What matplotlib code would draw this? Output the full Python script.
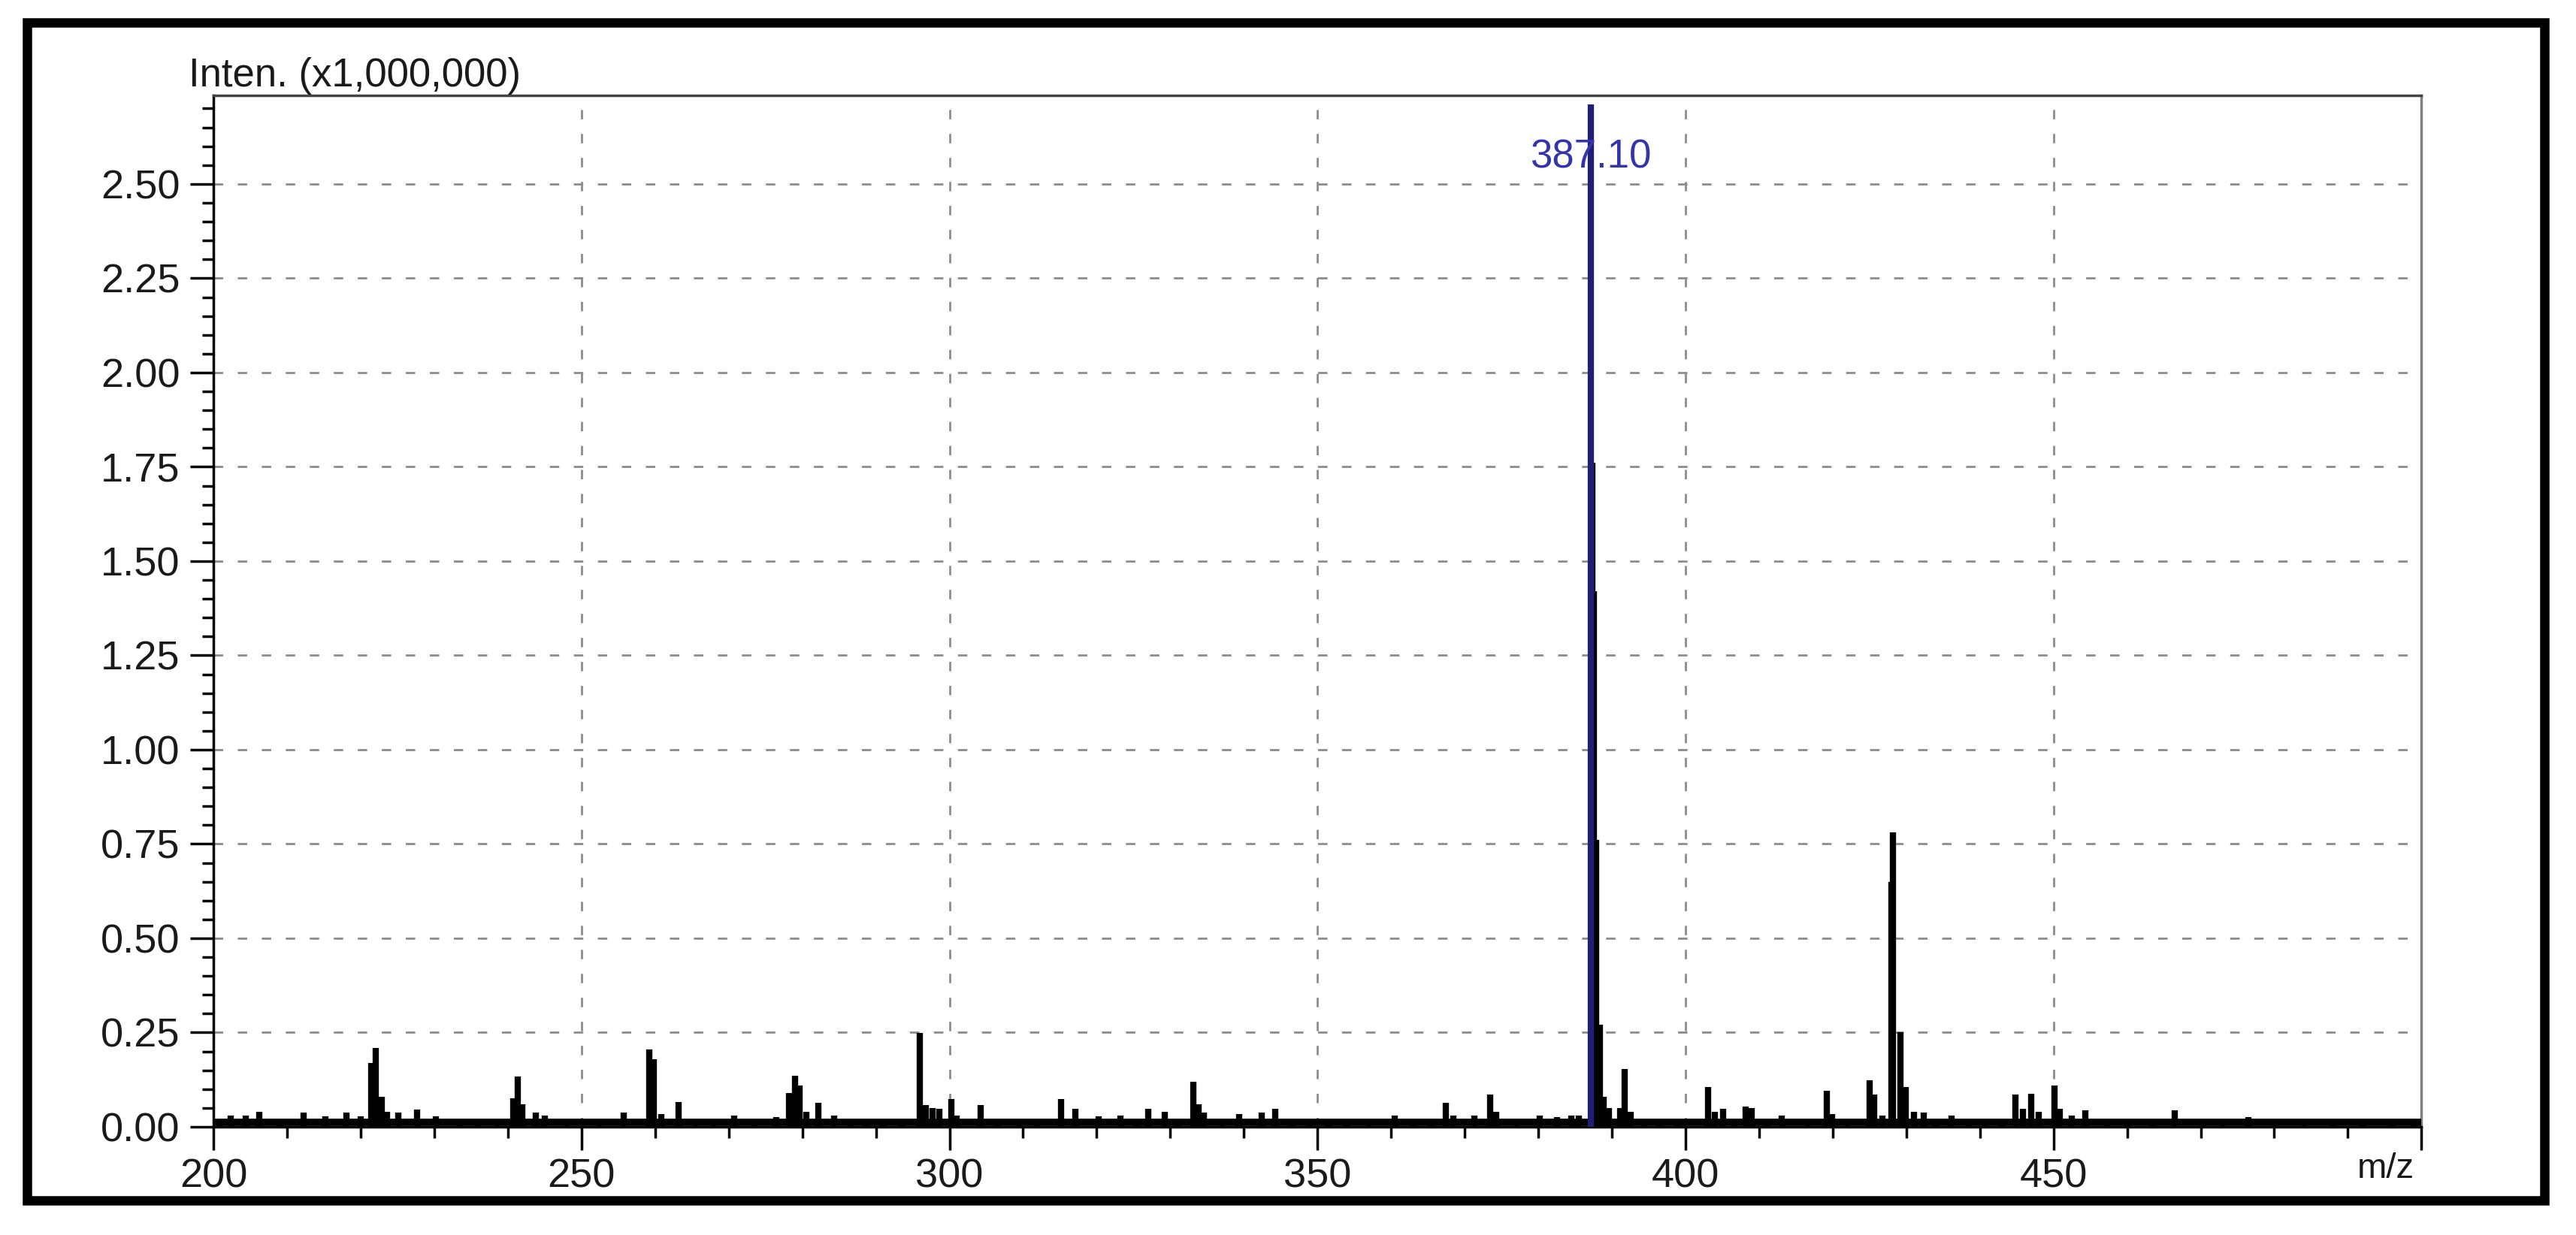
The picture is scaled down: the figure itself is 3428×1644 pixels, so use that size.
"""
质谱图绘制脚本
根据参考图重绘 m/z 质谱（强度单位 x1,000,000）
"""

import matplotlib
matplotlib.use('Agg')
import matplotlib.pyplot as plt
from matplotlib.patches import Rectangle
from matplotlib.ticker import MultipleLocator, FormatStrFormatter

# ---- 数据 ----
# 峰位置 (m/z)
mz_values = [
    200.8, 202.3, 204.4, 206.2, 209.0, 212.2, 215.2, 218.1, 220.0, 221.4,
    222.0, 222.9, 223.6, 225.1, 227.7, 230.2, 233.5, 236.0, 238.6, 240.7,
    241.3, 241.9, 243.8, 245.0, 248.0, 252.5, 255.7, 259.2, 259.8, 260.8,
    263.2, 265.5, 268.0, 270.7, 273.5, 276.5, 278.2, 279.0, 279.6, 280.5,
    282.2, 284.3, 286.5, 288.7, 291.0, 293.5, 296.0, 296.8, 297.7, 298.6,
    300.3, 301.0, 304.2, 306.5, 309.5, 312.0, 315.2, 317.1, 320.3, 323.2,
    325.5, 327.0, 329.2, 331.0, 333.1, 333.8, 334.6, 337.0, 339.4, 342.4,
    344.3, 346.5, 349.0, 351.5, 354.0, 357.0, 360.5, 363.0, 365.5, 367.4,
    368.5, 371.3, 373.5, 374.3, 377.0, 380.2, 382.5, 384.5, 385.5, 387.3,
    387.6, 387.9, 388.4, 388.9, 389.6, 391.1, 391.7, 392.6, 394.5, 396.5,
    399.0, 403.1, 404.0, 405.1, 406.5, 408.2, 409.0, 411.0, 413.1, 416.6,
    419.2, 419.9, 422.0, 425.0, 425.6, 426.8, 428.0, 428.2, 429.2, 429.9,
    431.0, 432.4, 434.0, 436.2, 438.5, 440.6, 443.0, 444.8, 445.9, 447.0,
    448.0, 450.1, 450.9, 452.5, 454.3, 457.3, 460.0, 463.5, 466.5, 470.5,
    473.0, 476.5, 480.0, 484.0, 488.0, 492.0, 496.0, 499.0,
]

# 峰强度 (x1,000,000)
intensities = [
    0.020, 0.030, 0.030, 0.040, 0.020, 0.038, 0.027, 0.038, 0.027, 0.170,
    0.210, 0.080, 0.040, 0.038, 0.045, 0.027, 0.015, 0.020, 0.020, 0.075,
    0.133, 0.060, 0.038, 0.030, 0.015, 0.020, 0.038, 0.206, 0.180, 0.034,
    0.066, 0.020, 0.020, 0.030, 0.020, 0.025, 0.090, 0.136, 0.110, 0.040,
    0.063, 0.030, 0.020, 0.020, 0.015, 0.020, 0.249, 0.057, 0.050, 0.047,
    0.073, 0.030, 0.057, 0.020, 0.020, 0.020, 0.073, 0.047, 0.027, 0.030,
    0.020, 0.047, 0.040, 0.020, 0.120, 0.060, 0.038, 0.020, 0.034, 0.038,
    0.047, 0.020, 0.015, 0.020, 0.020, 0.020, 0.030, 0.020, 0.020, 0.063,
    0.030, 0.030, 0.086, 0.040, 0.020, 0.030, 0.025, 0.030, 0.030, 1.760,
    1.420, 0.760, 0.270, 0.080, 0.050, 0.050, 0.153, 0.040, 0.020, 0.020,
    0.020, 0.106, 0.040, 0.047, 0.020, 0.053, 0.050, 0.020, 0.030, 0.017,
    0.096, 0.034, 0.020, 0.123, 0.085, 0.030, 0.650, 0.780, 0.250, 0.106,
    0.040, 0.038, 0.020, 0.030, 0.020, 0.020, 0.020, 0.086, 0.047, 0.088,
    0.040, 0.110, 0.047, 0.030, 0.043, 0.020, 0.020, 0.020, 0.044, 0.020,
    0.015, 0.026, 0.015, 0.020, 0.015, 0.020, 0.020, 0.020,
]

# 基峰
base_peak_mz = 387.1
base_peak_intensity = 2.71
base_peak_label = '387.10'

# 基线噪声水平
baseline_level = 0.012

# 坐标轴刻度
x_ticks = [200, 250, 300, 350, 400, 450, 500]
x_tick_labels = ['200', '250', '300', '350', '400', '450', '']
y_ticks = [0.00, 0.25, 0.50, 0.75, 1.00, 1.25, 1.50, 1.75, 2.00, 2.25, 2.50]

y_label_text = 'Inten. (x1,000,000)'
x_label_text = 'm/z'


def plot_spectrum(filename='out.png'):
    """绘制质谱图并保存"""
    plt.rcParams['font.family'] = ['Liberation Sans', 'DejaVu Sans']

    fig = plt.figure(figsize=(34.28, 16.44), dpi=100)
    fig.patch.set_facecolor('white')
    ax = fig.add_axes([0.0829, 0.0876, 0.8571, 0.8352])

    # 网格
    grid_style = dict(color='#8c8c8c', linestyle=(0, (4.5, 7)), linewidth=2)
    ax.set_axisbelow(True)
    ax.grid(True, which='major', **grid_style)

    # 质谱峰
    ax.vlines(mz_values, 0, intensities, colors='black', linewidth=6,
              zorder=3, capstyle='butt')
    ax.axhline(baseline_level, color='black', linewidth=7, zorder=3)
    ax.vlines([base_peak_mz], 0, [base_peak_intensity], colors='#1f1f78',
              linewidth=6, zorder=4)
    ax.text(base_peak_mz, 2.57, base_peak_label, color='#3434ac',
            ha='center', va='center', fontsize=38, zorder=5)

    # 坐标范围与刻度
    ax.set_xlim(200, 500)
    ax.set_ylim(0, 2.735)
    ax.set_xticks(x_ticks)
    ax.set_xticklabels(x_tick_labels)
    ax.set_yticks(y_ticks)
    ax.yaxis.set_major_formatter(FormatStrFormatter('%.2f'))
    ax.xaxis.set_minor_locator(MultipleLocator(10))
    ax.yaxis.set_minor_locator(MultipleLocator(0.05))

    ax.tick_params(which='major', direction='out', length=22, width=2.5,
                   labelsize=39, labelcolor='#1a1a1a')
    ax.tick_params(which='minor', direction='out', length=11, width=2.5)
    ax.tick_params(axis='x', which='major', pad=8)
    ax.tick_params(axis='y', which='major', pad=10)

    # 边框
    for side in ['left', 'bottom']:
        ax.spines[side].set_color('black')
        ax.spines[side].set_linewidth(2.5)
    ax.spines['top'].set_color('#444444')
    ax.spines['top'].set_linewidth(2.5)
    ax.spines['right'].set_color('#808080')
    ax.spines['right'].set_linewidth(2.5)

    # 轴标签
    ax.text(-0.0112, 1.0087, y_label_text, transform=ax.transAxes,
            ha='left', va='baseline', fontsize=38, color='#1a1a1a')
    ax.text(0.997, -0.041, x_label_text, transform=ax.transAxes,
            ha='right', va='center', fontsize=34, color='#1a1a1a')

    # 外框
    frame = Rectangle((0.0105, 0.028), 0.9772, 0.9537,
                      transform=fig.transFigure, fill=False,
                      edgecolor='black', linewidth=9)
    fig.add_artist(frame)

    fig.savefig(filename, dpi=100, facecolor='white')
    plt.close(fig)


if __name__ == "__main__":
    plot_spectrum()
